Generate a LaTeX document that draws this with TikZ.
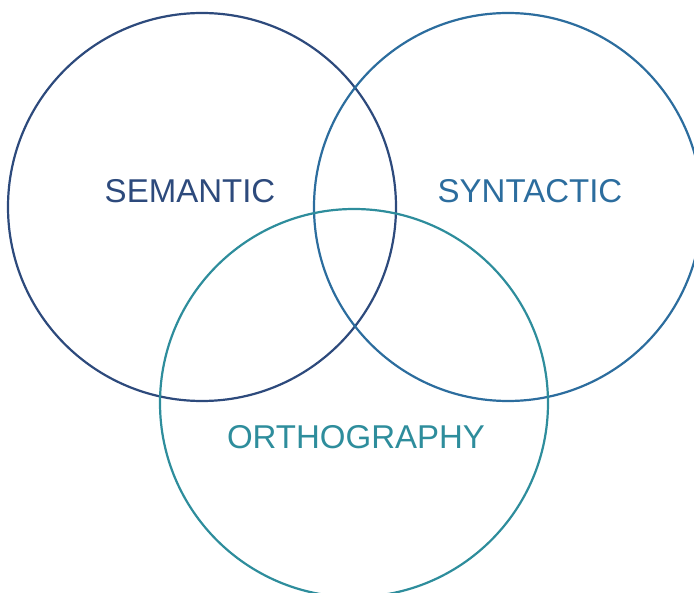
\documentclass[tikz,border=0pt]{standalone}
\usepackage{fontspec}
\setmainfont{Liberation Sans}
\usepackage{tikz}

\definecolor{semcol}{HTML}{2D4A7C}
\definecolor{syncol}{HTML}{2C6D9E}
\definecolor{ortcol}{HTML}{2E8D9C}

\begin{document}
\begin{tikzpicture}
	[x=1pt,y=-1pt]
	\tikzstyle{set}=[circle,minimum size=388pt,inner sep=0pt,line width=2.2pt]
	\tikzstyle{setname}=[font=\fontsize{33}{33}\selectfont]

	\useasboundingbox (0,0) rectangle (694,593);

	\node[set,draw=semcol] (SEM) at (202,207) {};
	\node[set,draw=syncol] (SYN) at (508,207) {};
	\node[set,draw=ortcol] (ORT) at (354,403) {};

	\node[setname,text=semcol] (semname) at (190,191) {SEMANTIC};
	\node[setname,text=syncol] (synname) at (530,191) {SYNTACTIC};
	\node[setname,text=ortcol] (ortname) at (356,437) {ORTHOGRAPHY};
\end{tikzpicture}
\end{document}
